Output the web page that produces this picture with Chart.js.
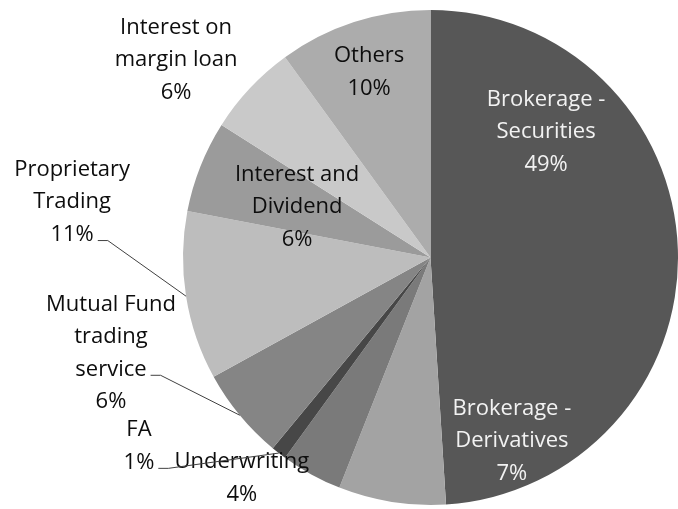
<!DOCTYPE html>
<html>
<head>
<meta charset="utf-8">
<script src="https://cdn.jsdelivr.net/npm/chart.js@4"></script>
<style>
  html, body { margin: 0; padding: 0; background: #fff; }
  #wrap { width: 678px; height: 509px; position: relative; }
</style>
</head>
<body>
<div id="wrap"><canvas id="chartRevenue"></canvas></div>
<script>
// Revenue breakdown, clockwise from 12 o'clock
const categories = [
  'Brokerage -\nSecurities',
  'Brokerage -\nDerivatives',
  'Underwriting',
  'FA',
  'Mutual Fund\ntrading\nservice',
  'Proprietary\nTrading',
  'Interest and\nDividend',
  'Interest on\nmargin loan',
  'Others'
];
const shares = [49, 7, 4, 1, 6, 11, 6, 6, 10];

const sliceColors = ['#575757', '#a3a3a3', '#7a7a7a', '#474747', '#858585', '#bdbdbd', '#9b9b9b', '#c9c9c9', '#acacac'];
const textColors = ['#f2f2f2', '#f2f2f2', '#0d0d0d', '#0d0d0d', '#0d0d0d', '#0d0d0d', '#0d0d0d', '#0d0d0d', '#0d0d0d'];

// label centre, relative to pie centre, in units of the radius
const labelPos = [
  [0.467, -0.507], [0.329, 0.741], [-0.762, 0.891], [-1.178, 0.762], [-1.291, 0.386],
  [-1.448, -0.224], [-0.539, -0.204], [-1.028, -0.798], [-0.248, -0.749]
];
// leader lines: which text line they start from (null = none)
const leaderLine = [null, null, null, 1, 2, 2, null, null, null];

const FONT = '22px "Open Sans"';
const LINE_H = 32.5;

const pieLabels = {
  id: 'pieLabels',
  afterDatasetsDraw(chart) {
    const ctx = chart.ctx;
    const meta = chart.getDatasetMeta(0);
    ctx.save();
    ctx.font = FONT;
    ctx.textAlign = 'center';
    ctx.textBaseline = 'middle';
    meta.data.forEach((arc, i) => {
      const r = arc.outerRadius;
      const lines = categories[i].split('\n').concat(shares[i] + '%');
      const cx = arc.x + labelPos[i][0] * r;
      const cy = arc.y + labelPos[i][1] * r;
      const top = cy - (lines.length - 1) * LINE_H / 2;

      ctx.fillStyle = textColors[i];
      lines.forEach((t, k) => ctx.fillText(t, cx, top + k * LINE_H));

      const li = leaderLine[i];
      if (li !== null) {
        const w = ctx.measureText(lines[li]).width;
        const sx = cx + w / 2 + 4;
        const sy = top + li * LINE_H + 6;
        const mid = (arc.startAngle + arc.endAngle) / 2;
        const ex = arc.x + Math.cos(mid) * r;
        const ey = arc.y + Math.sin(mid) * r;
        ctx.strokeStyle = '#404040';
        ctx.lineWidth = 1;
        ctx.beginPath();
        ctx.moveTo(sx, sy);
        ctx.lineTo(sx + 10, sy);
        ctx.lineTo(ex, ey);
        ctx.stroke();
      }
    });
    ctx.restore();
  }
};

new Chart(document.getElementById('chartRevenue'), {
  type: 'pie',
  data: {
    labels: categories,
    datasets: [{
      data: shares,
      backgroundColor: sliceColors,
      borderWidth: 0
    }]
  },
  options: {
    responsive: true,
    maintainAspectRatio: false,
    animation: false,
    layout: { padding: { left: 183, right: 0, top: 8, bottom: 2 } },
    plugins: { legend: { display: false }, tooltip: { enabled: false } }
  },
  plugins: [pieLabels]
});
</script>
</body>
</html>
